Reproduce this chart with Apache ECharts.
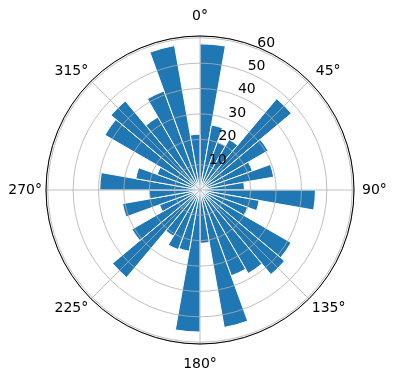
<!DOCTYPE html>
<html>
<head>
<meta charset="utf-8">
<script src="https://cdn.jsdelivr.net/npm/echarts@6/dist/echarts.min.js"></script>
<style>
    html, body { margin: 0; padding: 0; background: #fff; }
    #chart { width: 396px; height: 380px; }
</style>
</head>
<body>
<div id="chart"></div>
<script>
// bin centres (degrees, clockwise from north) and bar heights
var angles = [5, 15, 25, 35, 45, 55, 65, 75, 85, 95, 105, 115,
    125, 135, 145, 155, 165, 175, 185, 195, 205, 215, 225, 235,
    245, 255, 265, 275, 285, 295, 305, 315, 325, 335, 345, 355];
var radii = [57.6, 26, 20, 23, 47, 31, 22, 29.5, 17.5, 45.5, 23.7, 20,
    41.5, 43.5, 38, 36, 55, 21, 56, 24.5, 25, 21, 45, 31,
    17, 31, 20, 39.5, 25.7, 18, 43.3, 45.8, 33.2, 41.5, 57.8, 22];
var thetaTicks = [0, 45, 90, 135, 180, 225, 270, 315];
var rTicks = [10, 20, 30, 40, 50, 60];
var rMax = 60.7;

var center = [200, 190];
var radius = 154;
var font = 'DejaVu Sans';

var chart = echarts.init(document.getElementById('chart'));

var option = {
    backgroundColor: '#fff',
    animation: false,
    polar: [
        { center: center, radius: [0, radius] },
        { center: center, radius: [0, radius] },
        { center: [center[0] + 8, center[1] - 6.5], radius: [0, radius] }
    ],
    angleAxis: [{
        polarIndex: 0,
        type: 'category',
        data: angles.map(function (a) { return a + '°'; }),
        startAngle: 90,
        clockwise: true,
        axisLine: { show: false },
        axisTick: { show: false },
        axisLabel: { show: false },
        splitLine: { show: false }
    }, {
        polarIndex: 1,
        type: 'value',
        min: 0,
        max: 360,
        interval: 45,
        startAngle: 90,
        clockwise: true,
        z: 10,
        axisLine: { show: true, lineStyle: { color: '#000', width: 1 } },
        axisTick: { show: false },
        splitLine: { show: true, lineStyle: { color: '#b0b0b0', width: 0.8 } },
        axisLabel: {
            margin: 4,
            color: '#000',
            fontFamily: font,
            fontSize: 14,
            formatter: function (val) {
                if (thetaTicks.indexOf(val) < 0) {
                    return '';
                }
                if (val === 0) return '{t|0°}';
                if (val === 180) return '{b|180°}';
                if (val === 90) return '{r|90°}';
                if (val === 45) return '{r|45°}';
                return val + '°';
            },
            rich: {
                t: { fontFamily: font, fontSize: 14, padding: [0, 0, 9, 0] },
                b: { fontFamily: font, fontSize: 14, padding: [9, 0, 0, 0] },
                r: { fontFamily: font, fontSize: 14, padding: [0, 0, 0, 4] }
            }
        }
    }, {
        polarIndex: 2,
        type: 'value',
        min: 0,
        max: 360,
        startAngle: 67.5,
        clockwise: true,
        show: false
    }],
    radiusAxis: [{
        polarIndex: 0,
        type: 'value',
        min: 0,
        max: rMax,
        axisLine: { show: false },
        axisTick: { show: false },
        axisLabel: { show: false },
        splitLine: { show: false }
    }, {
        polarIndex: 1,
        type: 'value',
        min: 0,
        max: rMax,
        interval: 10,
        z: 10,
        axisLine: { show: false },
        axisTick: { show: false },
        axisLabel: { show: false },
        splitLine: { show: true, lineStyle: { color: '#b0b0b0', width: 0.8 } }
    }, {
        polarIndex: 2,
        type: 'value',
        min: 0,
        max: rMax,
        interval: 10,
        z: 11,
        axisLine: { show: false },
        axisTick: { show: false },
        splitLine: { show: false },
        axisLabel: {
            margin: 0,
            align: 'center',
            verticalAlign: 'middle',
            color: '#000',
            fontFamily: font,
            fontSize: 14,
            formatter: function (val) {
                return rTicks.indexOf(val) >= 0 ? String(val) : '';
            }
        }
    }],
    series: [{
        type: 'bar',
        coordinateSystem: 'polar',
        polarIndex: 0,
        data: radii,
        barCategoryGap: '0%',
        itemStyle: { color: '#1f77b4', borderColor: '#fff', borderWidth: 1 }
    }]
};
chart.setOption(option);
</script>
</body>
</html>
